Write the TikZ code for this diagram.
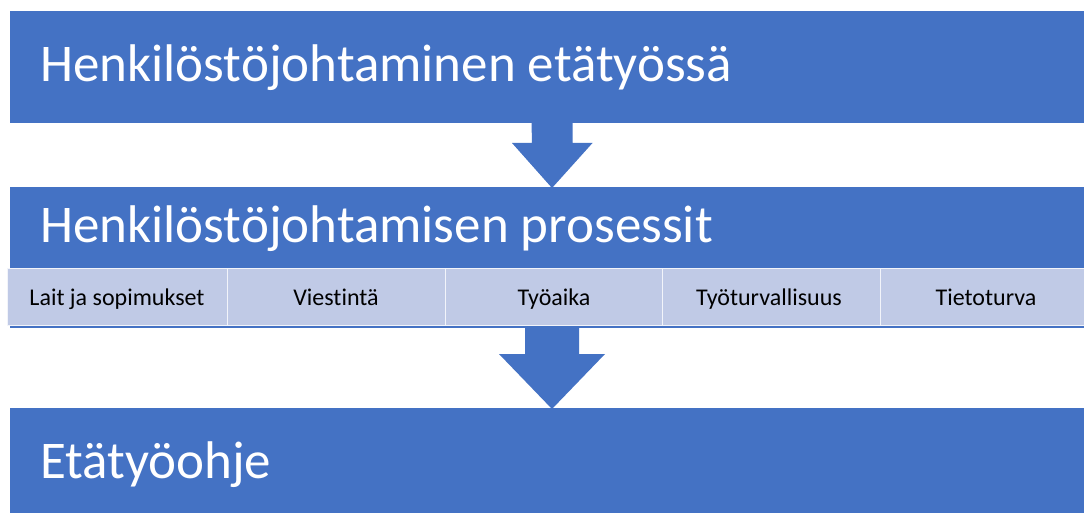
\documentclass[tikz,border=0pt]{standalone}
\usepackage{fontspec}
\setmainfont{Carlito}[Ligatures=NoCommon]
\definecolor{barblue}{RGB}{68,114,196}
\definecolor{subfill}{RGB}{192,202,230}
\begin{document}
\begin{tikzpicture}[x=1pt,y=-1pt,
  bar/.style={fill=barblue,draw=none},
  title/.style={anchor=base west,text=white,font=\fontsize{53}{60}\selectfont,inner sep=0pt},
  subbox/.style={fill=subfill,draw=white!80!subfill,line width=1pt,minimum width=218pt,minimum height=57pt,inner sep=0pt,anchor=north west},
  sublabel/.style={anchor=base,font=\fontsize{24}{28}\selectfont,text=black,inner sep=0pt},
  blockarrow/.style={fill=barblue,draw=none}]
\useasboundingbox (0,0) rectangle (1084,513);
\fill[white] (0,0) rectangle (1084,513);
% bars
\path[bar] (10,11) rectangle (1084,123);
\path[bar] (10,187) rectangle (1084,328);
\path[bar] (10,408) rectangle (1084,513);
\node[title] (t1) at (40,82) {Henkilöstöjohtaminen etätyössä};
\node[title] (t2) at (40,243) {Henkilöstöjohtamisen prosessit};
\node[title] (t3) at (40,478) {Etätyöohje};
% sub boxes
\node[subbox,minimum width=220pt] (s1) at (7,268) {};
\node[subbox] (s2) at (227,268) {};
\node[subbox,minimum width=217pt] (s3) at (445,268) {};
\node[subbox] (s4) at (662,268) {};
\node[subbox] (s5) at (880,268) {};
\node[sublabel] (l1) at (117,305) {Lait ja sopimukset};
\node[sublabel] (l2) at (336,305) {Viestintä};
\node[sublabel] (l3) at (554,305) {Työaika};
\node[sublabel] (l4) at (769,305) {Työturvallisuus};
\node[sublabel] (l5) at (986,305) {Tietoturva};
% arrows
\coordinate (a1) at (552,123);
\coordinate (a1tip) at (552,188);
\path[blockarrow] (a1) ++(-20.5,0) -- ++(41,0) -- ++(0,20) -- ++(20,0) -- (a1tip) -- ++(-40,-45) -- ++(20,0) -- cycle;
\coordinate (a2) at (552,326);
\coordinate (a2tip) at (552,409);
\path[blockarrow] (a2) ++(-27,0) -- ++(54,0) -- ++(0,28) -- ++(26,0) -- (a2tip) -- ++(-53,-55) -- ++(26,0) -- cycle;
\end{tikzpicture}
\end{document}
